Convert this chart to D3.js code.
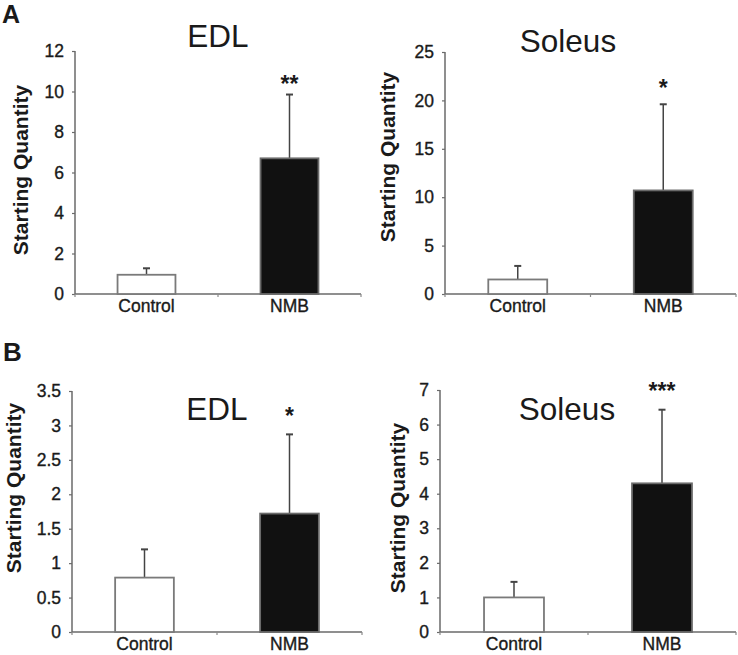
<!DOCTYPE html>
<html>
<head>
<meta charset="utf-8">
<script src="https://cdn.jsdelivr.net/npm/d3@7"></script>
<style>
  html, body { margin: 0; padding: 0; background: #fff; }
  svg { display: block; font-family: "Liberation Sans", Arial, sans-serif; }
</style>
</head>
<body>
<svg id="chart" width="738" height="655"></svg>
<script>
// ---- data ----
const categories = ["Control", "NMB"];
const yLabel = "Starting Quantity";

const titles = ["EDL", "Soleus", "EDL", "Soleus"];
const panelLetters = ["A", "B"];

const meansAEDL = [0.95, 6.7];
const errsAEDL = [0.32, 3.15];
const sigAEDL = ["", "**"];
const ticksAEDL = [0, 2, 4, 6, 8, 10, 12];

const meansASol = [1.5, 10.7];
const errsASol = [1.4, 8.9];
const sigASol = ["", "*"];
const ticksASol = [0, 5, 10, 15, 20, 25];

const meansBEDL = [0.79, 1.72];
const errsBEDL = [0.41, 1.15];
const sigBEDL = ["", "*"];
const ticksBEDL = [0, 0.5, 1, 1.5, 2, 2.5, 3, 3.5];

const meansBSol = [1.0, 4.3];
const errsBSol = [0.45, 2.13];
const sigBSol = ["", "***"];
const ticksBSol = [0, 1, 2, 3, 4, 5, 6, 7];

// ---- layout ----
const panels = [
  { means: meansAEDL, errs: errsAEDL, sig: sigAEDL, ticks: ticksAEDL, title: titles[0],
    x0: 75, x1: 361, yTop: 51, yBot: 294, titleX: 218, titleY: 47, labX: 28, labY: 170 },
  { means: meansASol, errs: errsASol, sig: sigASol, ticks: ticksASol, title: titles[1],
    x0: 445, x1: 736, yTop: 52, yBot: 294, titleX: 568, titleY: 52, labX: 395, labY: 157 },
  { means: meansBEDL, errs: errsBEDL, sig: sigBEDL, ticks: ticksBEDL, title: titles[2],
    x0: 72, x1: 362, yTop: 391, yBot: 632, titleX: 217, titleY: 420, labX: 21, labY: 488 },
  { means: meansBSol, errs: errsBSol, sig: sigBSol, ticks: ticksBSol, title: titles[3],
    x0: 440, x1: 736, yTop: 390, yBot: 632, titleX: 567, titleY: 420, labX: 405, labY: 508 }
];
const sigY = [92, 96, 424, 399];

const svg = d3.select("#chart");
const textColor = "#1a1a1a";

// panel letters
svg.append("text").attr("x", 2).attr("y", 23).attr("font-size", 25).attr("font-weight", "bold")
  .attr("fill", textColor).text(panelLetters[0]);
svg.append("text").attr("x", 3).attr("y", 361).attr("font-size", 26).attr("font-weight", "bold")
  .attr("fill", textColor).text(panelLetters[1]);

panels.forEach((p, pi) => {
  const g = svg.append("g");
  const ymax = p.ticks[p.ticks.length - 1];
  const y = d3.scaleLinear().domain([0, ymax]).range([p.yBot, p.yTop]);
  const x = d3.scaleBand().domain(categories).range([p.x0, p.x1])
    .paddingInner(0.595).paddingOuter(0.2975);
  const xEdge = d3.scaleLinear().domain([0, categories.length]).range([p.x0, p.x1]);

  // y axis
  const yAxis = g.append("g").attr("transform", `translate(${p.x0},0)`)
    .call(d3.axisLeft(y).tickValues(p.ticks).tickSize(3).tickPadding(8)
      .tickFormat(d => String(d)));
  yAxis.select(".domain").attr("stroke", "#6a6a6a").attr("stroke-width", 1.5)
    .attr("d", `M0,${p.yTop}V${p.yBot}`);
  yAxis.selectAll(".tick line").attr("stroke", "#6a6a6a").attr("stroke-width", 1.2);
  yAxis.selectAll(".tick text").attr("font-size", 17.5).attr("fill", textColor)
    .attr("stroke", textColor).attr("stroke-width", 0.35)
    .attr("font-family", "Liberation Sans, Arial, sans-serif");

  // x axis
  const xAxis = g.append("g").attr("transform", `translate(0,${p.yBot})`)
    .call(d3.axisBottom(x).tickSize(0).tickPadding(6));
  xAxis.select(".domain").remove();
  xAxis.selectAll(".tick text").attr("font-size", 17.5).attr("fill", textColor)
    .attr("stroke", textColor).attr("stroke-width", 0.35)
    .attr("font-family", "Liberation Sans, Arial, sans-serif");
  g.append("line").attr("x1", p.x0).attr("x2", p.x1).attr("y1", p.yBot).attr("y2", p.yBot)
    .attr("stroke", "#6a6a6a").attr("stroke-width", 1.5);
  g.selectAll(".xedge").data(d3.range(categories.length + 1)).enter().append("line")
    .attr("x1", d => xEdge(d)).attr("x2", d => xEdge(d))
    .attr("y1", p.yBot).attr("y2", p.yBot + 3)
    .attr("stroke", "#8a8a8a").attr("stroke-width", 1.2);

  // error bars (upper only)
  const errData = categories.map((c, i) => ({ c, m: p.means[i], e: p.errs[i] }));
  g.selectAll(".err").data(errData).enter().append("line")
    .attr("x1", d => x(d.c) + x.bandwidth() / 2).attr("x2", d => x(d.c) + x.bandwidth() / 2)
    .attr("y1", d => y(d.m)).attr("y2", d => y(d.m + d.e))
    .attr("stroke", "#444").attr("stroke-width", 1.5);
  g.selectAll(".cap").data(errData).enter().append("line")
    .attr("x1", d => x(d.c) + x.bandwidth() / 2 - 3.5).attr("x2", d => x(d.c) + x.bandwidth() / 2 + 3.5)
    .attr("y1", d => y(d.m + d.e)).attr("y2", d => y(d.m + d.e))
    .attr("stroke", "#444").attr("stroke-width", 2);

  // bars
  g.selectAll(".bar").data(errData).enter().append("rect")
    .attr("x", d => x(d.c)).attr("width", x.bandwidth())
    .attr("y", d => y(d.m)).attr("height", d => y(0) - y(d.m))
    .attr("fill", (d, i) => i === 0 ? "#ffffff" : "#111111")
    .attr("stroke", (d, i) => i === 0 ? "#7a7a7a" : "#6a6a6a")
    .attr("stroke-width", 1.8);

  // significance stars
  g.selectAll(".sig").data(errData.map((d, i) => ({ c: d.c, s: p.sig[i] }))).enter()
    .append("text")
    .attr("x", d => x(d.c) + x.bandwidth() / 2).attr("y", sigY[pi])
    .attr("text-anchor", "middle").attr("font-size", 23).attr("font-weight", "bold")
    .attr("fill", textColor)
    .text(d => d.s);

  // title
  g.append("text").attr("x", p.titleX).attr("y", p.titleY).attr("text-anchor", "middle")
    .attr("font-size", 31.5).attr("fill", textColor).text(p.title);

  // y label
  g.append("text").attr("transform", `translate(${p.labX},${p.labY}) rotate(-90)`)
    .attr("text-anchor", "middle").attr("font-size", 21).attr("font-weight", "bold")
    .attr("fill", textColor).text(yLabel);
});
</script>
</body>
</html>
